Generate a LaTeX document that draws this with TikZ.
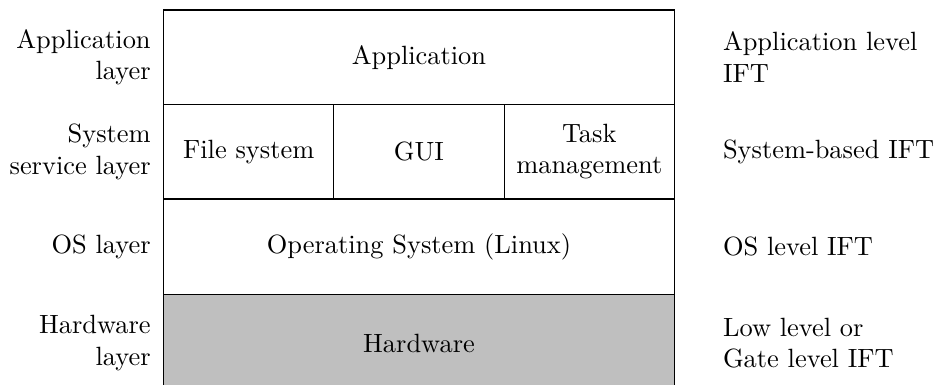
\documentclass[tikz,border=0pt]{standalone}
\usetikzlibrary{positioning}

\def\cells{{(1.134,-1.887)/fs/{File system}}, {(3.4015,-1.887)/gui/{GUI}}, {(5.669,-1.887)/task/{Task\\management}}}
\def\leftlabels{app/{Application\\layer}, fs/{System\\service layer}, os/{OS layer}, hw/{Hardware\\layer}}
\def\rightlabels{app/{Application level\\IFT}, task/{System-based IFT}, os/{OS level IFT}, hw/{Low level or\\Gate level IFT}}
\colorlet{hw area}{black!25}
\tikzstyle{layer} = [draw, minimum width=6.803cm, minimum height=1.258cm, inner sep=0pt, align=center]
\tikzstyle{hw layer} = [layer, fill=hw area, minimum height=1.294cm]
\tikzstyle{cell} = [draw, minimum width=2.268cm, minimum height=1.258cm, inner sep=0pt, align=center]
\tikzstyle{left label} = [align=right]
\tikzstyle{right label} = [align=left]

\begin{document}
\begin{tikzpicture}

  \useasboundingbox (-2.177,0.133) rectangle (10.285,-4.993);

  % The layers of the stack
  \node[layer] (app) at (3.4015,-0.629) {Application};
  \node[layer] (os) at (3.4015,-3.155) {Operating System (Linux)};
  \node[hw layer] (hw) at (3.4015,-4.434) {Hardware};

  % the system services
  \foreach \pos/\name/\text in \cells
    \node[cell] (\name) at \pos {\text};

  % Names of the layers
  \foreach \row/\text in \leftlabels
    \node[left label, left=0.04cm of \row.west] (\row-l) {\text};

  % Kind of tracking on each layer
  \foreach \row/\text in \rightlabels
    \node[right label, right=0.515cm of \row.east] (\row-r) {\text};

\end{tikzpicture}
\end{document}
